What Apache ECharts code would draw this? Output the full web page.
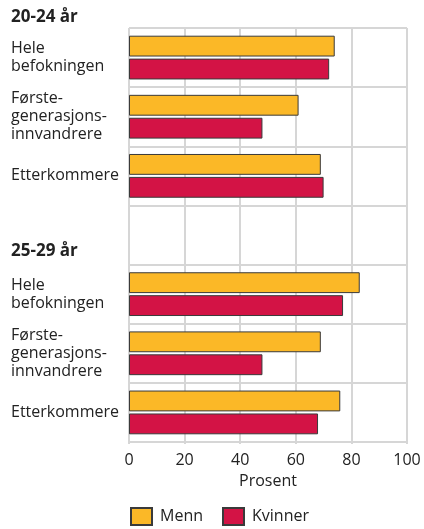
<!DOCTYPE html>
<html>
<head>
<meta charset="utf-8">
<script src="https://cdn.jsdelivr.net/npm/echarts@6/dist/echarts.min.js"></script>
<style>html,body{margin:0;padding:0;background:#fff}#c{width:424px;height:529px}</style>
</head>
<body>
<div id="c"></div>
<script>
const groupLabels = ['20-24 år', '25-29 år'];
const categories = ['Hele\nbefokningen', 'Første-\ngenerasjons-\ninnvandrere', 'Etterkommere', '',
  'Hele\nbefokningen', 'Første-\ngenerasjons-\ninnvandrere', 'Etterkommere'];
const menn    = [74, 61, 69, null, 83, 69, 76];
const kvinner = [72, 48, 70, null, 77, 48, 68];
const xTicks = [0, 20, 40, 60, 80, 100];
const seriesNames = ['Menn', 'Kvinner'];

const FONT = '"Open Sans", sans-serif';
const grid = {left: 129, right: 17, top: 28, bottom: 87};
const chart = echarts.init(document.getElementById('c'), null, {renderer: 'canvas'});
const gridColor = '#d6d6d6';
chart.setOption({
  animation: false,
  textStyle: {fontFamily: FONT},
  grid: grid,
  legend: {
    data: seriesNames,
    icon: 'rect',
    left: 130, bottom: 3, padding: 0,
    itemWidth: 21, itemHeight: 17, itemGap: 19,
    textStyle: {fontSize: 16, color: '#222', fontFamily: FONT, padding: [0, 0, 0, 3]}
  },
  graphic: [
    {type: 'text', left: 11, top: 9, style: {text: groupLabels[0], font: 'bold 17px ' + FONT, fill: '#222'}},
    {type: 'text', left: 11, top: 243, style: {text: groupLabels[1], font: 'bold 17px ' + FONT, fill: '#222'}}
  ],
  xAxis: {
    type: 'value', min: xTicks[0], max: xTicks[xTicks.length - 1], interval: 20,
    name: 'Prosent', nameLocation: 'middle', nameGap: 31,
    nameTextStyle: {fontSize: 16, color: '#222', fontFamily: FONT},
    axisLine: {show: false},
    axisTick: {show: true, length: 2, lineStyle: {color: gridColor, width: 2}},
    axisLabel: {fontSize: 16, color: '#222', margin: 10, fontFamily: FONT},
    splitLine: {show: true, lineStyle: {color: gridColor, width: 2}}
  },
  yAxis: {
    type: 'category', data: categories, inverse: true,
    axisLine: {show: false},
    axisTick: {show: false},
    axisLabel: {align: 'left', margin: 118, fontSize: 16, lineHeight: 18, color: '#222', fontFamily: FONT, interval: 0},
    splitLine: {show: true, interval: 0, lineStyle: {color: gridColor, width: 2}}
  },
  series: [
    {name: seriesNames[0], type: 'bar', data: menn, barGap: '10%', barCategoryGap: '26%',
     itemStyle: {color: '#FBB827', borderColor: '#3a3a3a', borderWidth: 1}},
    {name: seriesNames[1], type: 'bar', data: kvinner, barGap: '10%', barCategoryGap: '26%',
     itemStyle: {color: '#D31345', borderColor: '#3a3a3a', borderWidth: 1}}
  ]
});
</script>
</body>
</html>
